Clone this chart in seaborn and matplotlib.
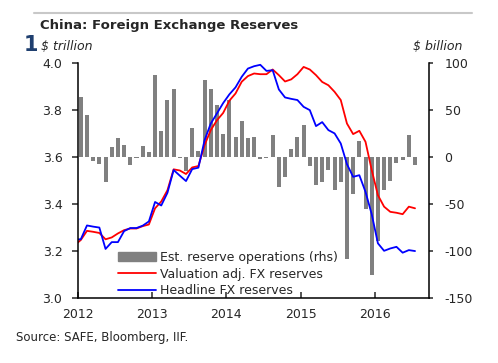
import numpy as np
import pandas as pd
import matplotlib
matplotlib.use("Agg")
import matplotlib.pyplot as plt
from matplotlib.lines import Line2D
from matplotlib.patches import Patch
import seaborn as sns

# monthly data, Jan 2012 .. Jul 2016 (bars), lines start Dec 2011
ops = [64, 45, -4, -7, -27, 11, 20, 13, -8.5, -1, 12, 5,
       87, 28, 61, 72, -1, -15, 31, 6, 82, 73, 55, 25,
       61, 21, 38, 20, 21, -1.5, -1, 23, -32, -21, 9, 21,
       34, -9, -30, -26, -13.5, -35, -26, -108.5, -39, 17, -55, -125,
       -89, -35.5, -25, -6.5, -3, 23.5, -8.5]

headline = [3.250,
            3.250, 3.309, 3.304, 3.300, 3.209, 3.238, 3.238, 3.285, 3.298, 3.298, 3.308, 3.326,
            3.409, 3.394, 3.448, 3.545, 3.521, 3.498, 3.549, 3.555, 3.672, 3.743, 3.786, 3.830,
            3.867, 3.897, 3.942, 3.977, 3.987, 3.993, 3.967, 3.970, 3.888, 3.854, 3.848, 3.843,
            3.814, 3.800, 3.732, 3.749, 3.715, 3.701, 3.658, 3.570, 3.516, 3.523, 3.452, 3.357,
            3.233, 3.201, 3.211, 3.218, 3.193, 3.204, 3.200]

valuation = [3.225,
             3.247, 3.286, 3.282, 3.277, 3.250, 3.258, 3.275, 3.289, 3.296, 3.296, 3.306, 3.313,
             3.382, 3.411, 3.459, 3.548, 3.543, 3.528, 3.556, 3.562, 3.651, 3.715, 3.757, 3.788,
             3.840, 3.871, 3.921, 3.945, 3.956, 3.953, 3.953, 3.973, 3.949, 3.922, 3.931, 3.953,
             3.984, 3.973, 3.949, 3.920, 3.906, 3.878, 3.843, 3.743, 3.698, 3.712, 3.665, 3.545,
             3.438, 3.389, 3.367, 3.363, 3.357, 3.389, 3.382]

year_ticks = [2012, 2013, 2014, 2015, 2016]
labels = ["Est. reserve operations (rhs)", "Valuation adj. FX reserves", "Headline FX reserves"]

# month index positions (0 = Jan 2012, centred mid month)
bar_x = [i + 0.5 for i in range(len(ops))]
line_x = [i - 0.5 for i in range(len(headline))]

lines = pd.concat([
    pd.DataFrame({"x": line_x, "value": valuation, "series": labels[1]}),
    pd.DataFrame({"x": line_x, "value": headline, "series": labels[2]}),
])

sns.set_style("ticks")
plt.rcParams["font.family"] = ["DejaVu Sans"]
plt.rcParams["axes.unicode_minus"] = False

fig = plt.figure(figsize=(4.98, 3.63), dpi=100)
ax = fig.add_axes([0.156, 0.179, 0.706, 0.647])
axb = ax.twinx()

sns.barplot(x=bar_x, y=ops, native_scale=True, color="#808080", width=0.65,
            errorbar=None, saturation=1, linewidth=0, ax=axb)
sns.lineplot(data=lines, x="x", y="value", hue="series",
             palette={labels[1]: "#FF0000", labels[2]: "#0000FF"},
             linewidth=1.3, legend=False, ax=ax)

ax.set_zorder(axb.get_zorder() + 1)
ax.patch.set_visible(False)

ax.set_xlim(0, 56.8)
ax.set_ylim(3.0, 4.0)
axb.set_ylim(-150, 100)
ax.set_yticks(np.arange(3.0, 4.01, 0.2))
ax.set_yticklabels([f"{v:.1f}" for v in np.arange(3.0, 4.01, 0.2)])
axb.set_yticks(range(-150, 101, 50))
ax.set_xticks([(y - 2012) * 12 for y in year_ticks])
ax.set_xticklabels([str(y) for y in year_ticks])
ax.set_xlabel("")
ax.set_ylabel("")
axb.set_xlabel("")
axb.set_ylabel("")

for a in (ax, axb):
    a.spines["top"].set_visible(False)
    for s in a.spines.values():
        s.set_linewidth(1.1)
        s.set_color("black")
ax.spines["right"].set_visible(False)
axb.spines["left"].set_visible(False)
axb.spines["bottom"].set_visible(False)

ax.tick_params(axis="y", direction="out", length=4, width=1.1, pad=7, labelsize=9)
axb.tick_params(axis="y", direction="out", length=3, width=1.1, pad=8, labelsize=9)
ax.tick_params(axis="x", direction="in", length=4, width=1.1, pad=7, labelsize=9)
axb.tick_params(axis="x", bottom=False, labelbottom=False)

handles = [Patch(color="#808080"),
           Line2D([], [], color="#FF0000", lw=1.3),
           Line2D([], [], color="#0000FF", lw=1.3)]
fig.legend(handles, labels, loc="upper left", bbox_to_anchor=(118 / 498, 1 - 251 / 363),
           frameon=False, fontsize=9, handlelength=3.0, handletextpad=0.35,
           labelspacing=0.3, borderpad=0, borderaxespad=0)

fig.add_artist(Line2D([34 / 498, 472 / 498], [1 - 13 / 363] * 2, color="#C8C8C8", lw=1.5))
fig.text(24 / 498, 1 - 45 / 363, "1", fontsize=15, fontweight="bold", color="#1F3F6F", va="center")
fig.text(40 / 498, 1 - 25 / 363, "China: Foreign Exchange Reserves", fontsize=9.5,
         fontweight="bold", va="center")
fig.text(41 / 498, 1 - 46 / 363, "$ trillion", fontsize=9, style="italic", va="center")
fig.text(462 / 498, 1 - 46 / 363, "$ billion", fontsize=9, style="italic", va="center", ha="right")
fig.text(16 / 498, 1 - 337 / 363, "Source: SAFE, Bloomberg, IIF.", fontsize=8.5, va="center")

fig.savefig("out.png", dpi=100)
